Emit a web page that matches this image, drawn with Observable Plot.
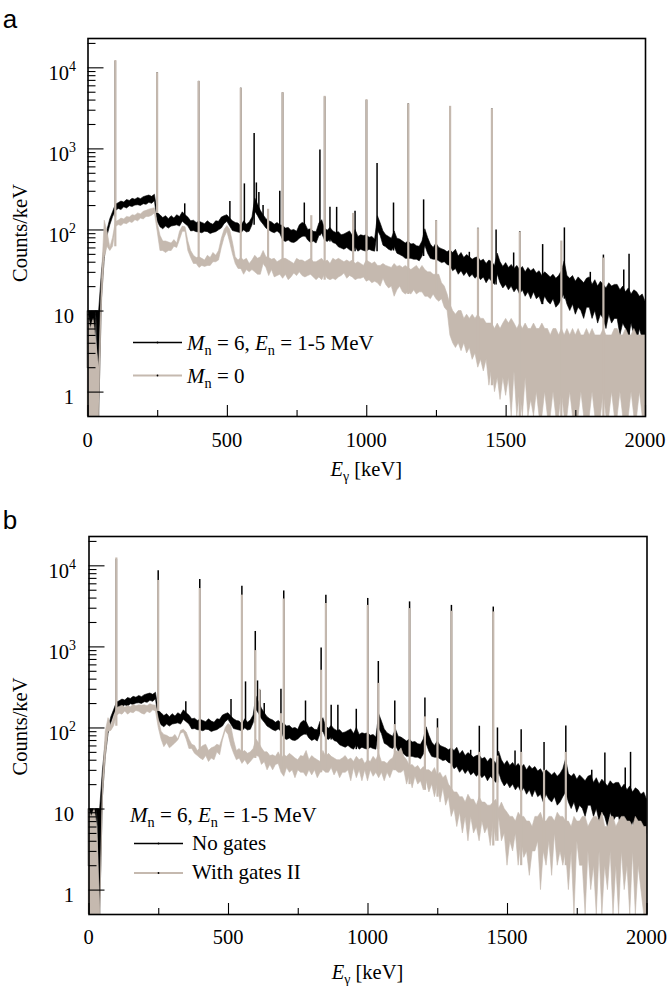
<!DOCTYPE html>
<html><head><meta charset="utf-8">
<script src="https://cdn.jsdelivr.net/npm/d3@7"></script>
<script src="https://cdn.jsdelivr.net/npm/@observablehq/plot@0.6"></script>
<style>
html,body{margin:0;padding:0;background:#fff;overflow:hidden;}
svg{display:block;}
</style></head><body>
<div id="chart"></div>
<script>
// ---- energy bins (keV), 10 keV wide ----
const energies = d3.range(0, 2001, 10);

// ---- noise band of each spectrum per bin: upper and lower edge (counts/keV) ----
// M_n = 6, E_n = 1-5 MeV, no gates (black, both panels)
const noGatesHi = [
/* 0 */    10, 10, 10, 10, 10, 30, 66, 100, 136, 166,
/* 100 */  205, 214, 224, 218, 234, 228, 242, 236, 248, 240,
/* 200 */  254, 260, 266, 256, 272, 162, 152, 140, 148, 136,
/* 300 */  148, 138, 152, 144, 165, 152, 142, 128, 130, 122,
/* 400 */  126, 122, 118, 128, 120, 116, 128, 126, 142, 148,
/* 500 */  152, 138, 128, 122, 120, 110, 128, 116, 124, 142,
/* 600 */  245, 205, 172, 152, 136, 128, 124, 116, 122, 114,
/* 700 */  112, 104, 106, 98, 100, 95, 114, 122, 118, 100,
/* 800 */  102, 95, 94, 120, 132, 104, 98, 106, 96, 92,
/* 900 */  94, 86, 88, 92, 96, 84, 100, 82, 86, 84,
/* 1000 */ 86, 80, 82, 76, 148, 120, 96, 86, 82, 78,
/* 1100 */ 96, 78, 76, 72, 68, 72, 66, 67, 63, 62,
/* 1200 */ 72, 102, 80, 66, 60, 68, 60, 58, 56, 53,
/* 1300 */ 56, 52, 57, 47, 52, 45, 49, 46, 43, 45,
/* 1400 */ 46, 41, 43, 38, 42, 40, 36, 51, 40, 35,
/* 1500 */ 39, 34, 37, 33, 36, 32, 35, 30, 34, 31,
/* 1600 */ 33, 29, 31, 27, 30, 28, 26, 28, 25, 27,
/* 1700 */ 31, 41, 27, 25, 27, 23, 26, 24, 22, 25,
/* 1800 */ 26, 21, 24, 20, 23, 21, 19, 22, 20, 21,
/* 1900 */ 21, 18, 20, 17, 19, 16, 18, 17, 15, 16,
/* 2000 */ 13
];
const noGatesLo = [
/* 0 */    2, 2.2, 0.3, 10, 0.3, 14, 44, 84, 114, 144,
/* 100 */  170, 182, 176, 190, 184, 196, 192, 200, 202, 198,
/* 200 */  208, 204, 216, 210, 226, 126, 108, 102, 110, 104,
/* 300 */  110, 112, 114, 110, 126, 118, 110, 96, 97, 94,
/* 400 */  93, 91, 95, 94, 89, 92, 94, 99, 104, 118,
/* 500 */  126, 110, 97, 95, 93, 91, 99, 93, 95, 114,
/* 600 */  168, 148, 128, 116, 104, 99, 94, 91, 96, 90,
/* 700 */  74, 71, 74, 70, 69, 72, 78, 82, 84, 74,
/* 800 */  69, 72, 68, 84, 90, 74, 71, 76, 69, 67,
/* 900 */  61, 59, 57, 60, 56, 54, 61, 54, 57, 55,
/* 1000 */ 54, 57, 55, 54, 98, 84, 64, 61, 57, 55,
/* 1100 */ 61, 51, 49, 47, 44, 44, 44, 43, 43, 41,
/* 1200 */ 47, 64, 51, 44, 43, 43, 41, 39, 40, 37,
/* 1300 */ 36, 31, 33, 28, 31, 27, 30, 26, 28, 25,
/* 1400 */ 27, 24, 26, 22, 25, 23, 21, 28, 22, 19,
/* 1500 */ 21, 18, 20, 17, 19, 16, 18, 15, 17, 14,
/* 1600 */ 17, 14, 15, 12, 15, 13, 12, 14, 11, 12,
/* 1700 */ 14, 16, 12, 10, 12, 9, 11, 10, 8, 11,
/* 1800 */ 11, 8, 10, 7, 9, 8, 6, 9, 7, 8,
/* 1900 */ 8, 5, 7, 6, 4.5, 7, 5, 4, 6, 4.5,
/* 2000 */ 5
];
// M_n = 0 (grey, panel a)
const mn0Hi = [
/* 0 */    10, 6, 8, 4, 2, 25, 130, 95, 60, 80,
/* 100 */  125, 130, 138, 135, 145, 142, 152, 150, 160, 155,
/* 200 */  168, 172, 178, 182, 185, 120, 85, 72, 72, 70,
/* 300 */  68, 75, 68, 95, 110, 108, 72, 55, 48, 45,
/* 400 */  46, 44, 42, 48, 45, 52, 48, 55, 78, 100,
/* 500 */  112, 100, 70, 46, 42, 45, 42, 44, 38, 42,
/* 600 */  48, 44, 46, 55, 46, 45, 43, 44, 40, 42,
/* 700 */  44, 44, 42, 40, 38, 44, 42, 42, 40, 42,
/* 800 */  44, 40, 40, 42, 44, 40, 42, 38, 44, 42,
/* 900 */  44, 42, 40, 42, 40, 42, 38, 40, 38, 36,
/* 1000 */ 42, 40, 38, 40, 36, 36, 38, 36, 35, 34,
/* 1100 */ 38, 35, 36, 34, 36, 34, 32, 34, 36, 32,
/* 1200 */ 36, 32, 30, 30, 28, 28, 28, 22, 20, 16,
/* 1300 */ 12, 10, 9, 10, 10, 8, 9, 8, 9, 8,
/* 1400 */ 9, 8, 8, 7, 7, 7, 6, 7, 6, 7,
/* 1500 */ 8, 7, 8, 7, 6, 7, 6, 7, 6, 6,
/* 1600 */ 7, 6, 6, 7, 6, 6, 5, 6, 6, 5,
/* 1700 */ 6, 5, 6, 5, 6, 5, 6, 5, 5, 6,
/* 1800 */ 5, 6, 5, 5, 5, 6, 5, 5, 5, 6,
/* 1900 */ 6, 5, 5, 6, 5, 5, 6, 5, 5, 5,
/* 2000 */ 5
];
const mn0Lo = [
/* 0 */    0.2, 0.2, 0.2, 0.2, 0.2, 12, 45, 62, 55, 62,
/* 100 */  108, 115, 112, 120, 118, 125, 122, 132, 128, 138,
/* 200 */  135, 145, 145, 150, 160, 95, 55, 55, 52, 55,
/* 300 */  55, 62, 60, 75, 95, 95, 55, 45, 38, 38,
/* 400 */  34, 36, 35, 36, 36, 40, 40, 42, 60, 80,
/* 500 */  95, 70, 50, 38, 33, 33, 28, 32, 30, 32,
/* 600 */  30, 28, 28, 38, 34, 27, 32, 26, 27, 28,
/* 700 */  25, 28, 24, 26, 29, 27, 30, 27, 26, 27,
/* 800 */  28, 26, 24, 26, 24, 28, 25, 24, 25, 24,
/* 900 */  26, 27, 29, 25, 27, 26, 24, 25, 25, 26,
/* 1000 */ 23, 24, 22, 23, 22, 20, 25, 21, 19, 20,
/* 1100 */ 15, 18, 20, 17, 16, 17, 16, 18, 16, 17,
/* 1200 */ 17, 15, 15, 14, 16, 14, 13, 14, 11, 10,
/* 1300 */ 5, 4, 3.5, 4, 3.2, 4, 3, 3.5, 2.5, 3,
/* 1400 */ 2, 2.5, 1.8, 2.5, 1.2, 2, 1, 1.5, 0.8, 1.5,
/* 1500 */ 0.9, 1.5, 0.2, 1.8, 0.2, 1, 0.2, 1.5, 0.2, 0.8,
/* 1600 */ 0.2, 1, 0.2, 0.2, 1, 0.2, 0.2, 1, 0.2, 0.2,
/* 1700 */ 1, 0.2, 0.2, 1, 0.2, 0.2, 0.2, 1, 0.2, 0.2,
/* 1800 */ 0.2, 1, 0.2, 0.2, 0.2, 1, 0.2, 0.2, 1, 0.2,
/* 1900 */ 0.2, 1, 0.2, 0.2, 0.2, 1, 0.2, 0.2, 1, 0.2,
/* 2000 */ 0.2
];
// With gates II (grey, panel b)
const gatesHi = [
/* 0 */    10, 8, 10, 6, 0.3, 22, 90, 132, 105, 135,
/* 100 */  175, 182, 188, 178, 186, 180, 192, 185, 190, 188,
/* 200 */  190, 185, 196, 190, 188, 130, 90, 82, 80, 76,
/* 300 */  76, 82, 72, 92, 95, 88, 72, 62, 60, 52,
/* 400 */  56, 60, 62, 52, 56, 58, 62, 60, 76, 100,
/* 500 */  112, 105, 70, 52, 55, 50, 52, 48, 50, 55,
/* 600 */  72, 65, 56, 50, 50, 45, 46, 44, 50, 42,
/* 700 */  46, 44, 48, 45, 42, 40, 45, 44, 52, 40,
/* 800 */  45, 42, 40, 38, 52, 44, 48, 44, 42, 40,
/* 900 */  40, 42, 45, 40, 42, 38, 44, 40, 42, 36,
/* 1000 */ 40, 38, 44, 40, 48, 38, 38, 36, 40, 42,
/* 1100 */ 52, 50, 56, 44, 40, 34, 35, 32, 34, 30,
/* 1200 */ 33, 30, 30, 28, 32, 26, 28, 24, 26, 20,
/* 1300 */ 18, 16, 16, 14, 14, 12, 15, 13, 13, 11,
/* 1400 */ 14, 12, 12, 11, 11, 12, 13, 10, 12, 10,
/* 1500 */ 9, 8, 8, 7, 9, 8, 8, 7, 7, 6,
/* 1600 */ 8, 8, 9, 7, 7, 8, 8, 7, 9, 8,
/* 1700 */ 8, 7, 7, 6, 8, 7, 7, 8, 8, 6,
/* 1800 */ 7, 8, 8, 7, 9, 6, 6, 8, 8, 6,
/* 1900 */ 7, 8, 8, 7, 7, 6, 8, 7, 7, 6,
/* 2000 */ 6
];
const gatesLo = [
/* 0 */    0.2, 0.2, 0.2, 0.2, 0.2, 14, 42, 90, 92, 105,
/* 100 */  140, 150, 146, 160, 146, 155, 152, 162, 158, 150,
/* 200 */  146, 158, 152, 165, 160, 100, 72, 58, 65, 56,
/* 300 */  60, 65, 70, 85, 88, 72, 55, 55, 48, 45,
/* 400 */  42, 40, 45, 38, 42, 40, 50, 46, 70, 92,
/* 500 */  82, 60, 48, 40, 42, 36, 40, 35, 38, 42,
/* 600 */  45, 44, 35, 38, 30, 35, 30, 35, 36, 28,
/* 700 */  25, 32, 28, 30, 24, 30, 28, 28, 25, 30,
/* 800 */  26, 30, 24, 28, 30, 28, 28, 32, 26, 30,
/* 900 */  24, 28, 28, 30, 22, 32, 24, 30, 22, 30,
/* 1000 */ 22, 30, 25, 28, 24, 28, 22, 28, 24, 30,
/* 1100 */ 30, 28, 28, 30, 20, 26, 18, 25, 20, 22,
/* 1200 */ 17, 22, 16, 20, 14, 20, 12, 18, 11, 14,
/* 1300 */ 8, 10, 6, 9, 5, 8, 4, 8, 5, 6,
/* 1400 */ 4, 7, 5, 6, 3.5, 7, 4, 8, 4, 5,
/* 1500 */ 2, 4, 3, 5, 2, 4, 2.5, 3, 1.5, 3,
/* 1600 */ 3, 4, 1, 3, 2, 4, 1.5, 5, 2, 3,
/* 1700 */ 2, 3, 1, 3, 0.2, 4, 2, 2, 0.2, 3,
/* 1800 */ 1, 2, 0.2, 3, 0.2, 2, 1, 3, 0.2, 2,
/* 1900 */ 0.2, 3, 1, 2, 0.2, 3, 0.2, 2, 1, 0.2,
/* 2000 */ 0.2
];

// ---- gamma lines (peak energy keV, peak height counts/keV) ----
const peakE_NoGates = [98, 248, 347, 397, 509, 548, 561, 596, 604, 613, 628, 688, 698, 776, 832, 849, 868, 892, 958, 999, 1037, 1096, 1149, 1204, 1249, 1299, 1368, 1399, 1449, 1464, 1527, 1549, 1631, 1709, 1802, 1849, 1922, 1941];
const peakH_NoGates = [12000, 8700, 210, 6800, 225, 5600, 370, 1550, 380, 290, 200, 300, 4900, 215, 970, 4350, 190, 190, 170, 3960, 660, 215, 3590, 235, 130, 3250, 53, 105, 3100, 100, 52, 95, 66, 106, 30, 49, 32, 50];
const peakE_Mn0 = [98, 248, 397, 548, 646, 698, 801, 849, 951, 999, 1149, 1249, 1299, 1399, 1449, 1549, 1698, 1849];
const peakH_Mn0 = [12300, 8700, 6800, 5600, 180, 4950, 150, 4450, 160, 4050, 3600, 130, 3350, 104, 3100, 94, 73, 45];
const peakE_Gates = [98, 248, 397, 548, 596, 611, 688, 698, 832, 849, 999, 1037, 1096, 1149, 1204, 1249, 1299, 1399, 1449, 1464, 1549, 1631, 1709];
const peakH_Gates = [12500, 6600, 5250, 4350, 900, 300, 150, 3900, 515, 3430, 3250, 355, 110, 2970, 137, 100, 2750, 50, 2700, 45, 50, 30, 50];

// ---- axes ----
const xTickMajor = [0, 500, 1000, 1500, 2000];
const xTickLabels = ["0", "500", "1000", "1500", "2000"];
const xTickMinor = [250, 750, 1250, 1750];
const yTickMajor = [1, 10, 100, 1000, 10000];
const yTickBase = ["1", "10", "10", "10", "10"];
const yTickExp = ["", "", "2", "3", "4"];
const yTickMinor = [1, 10, 100, 1000].flatMap(d => [2, 3, 4, 5, 6, 7, 8, 9].map(k => k * d)).concat([20000]);

const GREY = "#c5b9af";
const SERIF = "Liberation Serif";
const SANS = "Liberation Sans";

const band = (lo, hi) => energies.map((e, i) => ({e, lo: lo[i], hi: hi[i]}));
const peaks = (pe, ph, lo) => pe.map((e, i) => ({e, top: ph[i], base: lo[Math.floor(e / 10)]}));

const bandNoGates = band(noGatesLo, noGatesHi);
const bandMn0 = band(mn0Lo, mn0Hi);
const bandGates = band(gatesLo, gatesHi);
const peaksNoGates = peaks(peakE_NoGates, peakH_NoGates, noGatesLo);
const peaksMn0 = peaks(peakE_Mn0, peakH_Mn0, mn0Lo);
const peaksGates = peaks(peakE_Gates, peakH_Gates, gatesLo);

// rich text, laid out with text-anchor start; alignment done by measuring
function rich(g, x, y, parts, size, anchor = "start", rotate = false) {
  const t = g.append("text").attr("x", 0).attr("y", 0)
    .attr("text-anchor", "start")
    .attr("style", `font-family: "${SERIF}"; font-size: ${size}px; font-weight: normal`)
    .attr("fill", "#000");
  let cur = 0;
  parts.forEach(p => {
    const want = p.sub ? size * 0.26 : p.sup ? -size * 0.42 : 0;
    const s = t.append("tspan").text(p.t);
    if (want !== cur) s.attr("dy", want - cur);
    cur = want;
    if (p.i) s.attr("font-style", "italic");
    if (p.sub || p.sup) s.style("font-size", (size * 0.68) + "px");
  });
  const w = t.node().getComputedTextLength();
  const shift = anchor === "middle" ? -w / 2 : anchor === "end" ? -w : 0;
  if (rotate) {
    t.attr("x", shift).attr("transform", `translate(${x},${y}) rotate(-90)`);
  } else {
    t.attr("x", x + shift).attr("y", y);
  }
  return t;
}

function panel(cfg) {
  const W = 670, H = 493;
  const fw = W - cfg.ml - cfg.mr, fh = H - cfg.mt - cfg.mb;
  const svg = Plot.plot({
    width: W, height: H,
    marginTop: cfg.mt, marginBottom: cfg.mb, marginLeft: cfg.ml, marginRight: cfg.mr,
    style: {fontFamily: SERIF, background: "#fff", overflow: "visible"},
    x: {domain: [0, 2000], axis: null},
    y: {type: "log", domain: [0.5, 23000], clamp: true, axis: null},
    marks: [
      Plot.areaY(bandNoGates, {x: "e", y1: "lo", y2: "hi", fill: "#000", stroke: "#000", strokeWidth: 0.6}),
      Plot.ruleX(peaksNoGates, {x: "e", y1: "base", y2: "top", stroke: "#000", strokeWidth: 1.5}),
      Plot.areaY(cfg.band, {x: "e", y1: "lo", y2: "hi", fill: GREY, stroke: GREY, strokeWidth: 0.6}),
      Plot.ruleX(cfg.peaks, {x: "e", y1: "base", y2: "top", stroke: GREY, strokeWidth: 2.2}),
      Plot.tickY(yTickMajor, {y: d => d, stroke: "#000", strokeWidth: 1.1, insetRight: fw - 16}),
      Plot.tickY(yTickMinor, {y: d => d, stroke: "#000", strokeWidth: 1.1, insetRight: fw - 8}),
      Plot.tickX(xTickMajor, {x: d => d, stroke: "#000", strokeWidth: 1.1, insetTop: fh - 11}),
      Plot.tickX(xTickMinor, {x: d => d, stroke: "#000", strokeWidth: 1.1, insetTop: fh - 6}),
      Plot.frame({stroke: "#000", strokeWidth: 1.6})
    ]
  });
  document.getElementById("chart").appendChild(svg);
  const sx = svg.scale("x"), sy = svg.scale("y");
  const g = d3.select(svg).append("g");
  xTickMajor.forEach((v, i) => {
    rich(g, sx.apply(v), cfg.xLab, [{t: xTickLabels[i]}], 20.5, "middle");
  });
  yTickMajor.forEach((v, i) => {
    const parts = [{t: yTickBase[i]}];
    if (yTickExp[i]) parts.push({t: yTickExp[i], sup: 1});
    rich(g, yTickExp[i] ? 76 : 74, sy.apply(v) + 12.5, parts, 20.5, "end");
  });
  const x0 = sx.apply(0), x1 = sx.apply(2000);
  rich(g, (x0 + x1) / 2, cfg.xTitle, [{t: "E", i: 1}, {t: "γ", sub: 1}, {t: " [keV]"}], 20.5, "middle");
  rich(g, 27, cfg.yTitle, [{t: "Counts/keV"}], 20.5, "middle", true);
  g.append("text").attr("x", 10).attr("y", cfg.letterY)
    .attr("style", `font-family: "${SANS}"; font-size: 26px`).text(cfg.letter);
  cfg.legend(g);
  return svg;
}

const lgM6 = [{t: "M", i: 1}, {t: "n", sub: 1}, {t: " = 6, "}, {t: "E", i: 1}, {t: "n", sub: 1}, {t: " = 1-5 MeV"}];

function legendLine(g, x1, x2, y, color, w) {
  g.append("line").attr("x1", x1).attr("x2", x2).attr("y1", y).attr("y2", y).attr("stroke", color).attr("stroke-width", w);
  g.append("circle").attr("cx", (x1 + x2) / 2).attr("cy", y).attr("r", 0.9).attr("fill", "#000");
}

panel({
  letter: "a", letterY: 28, mt: 38, mb: 77, ml: 87.5, mr: 25,
  xLab: 447, xTitle: 476, yTitle: 233, band: bandMn0, peaks: peaksMn0,
  legend: g => {
    legendLine(g, 133, 182, 342.5, "#000", 1.6);
    rich(g, 187, 350, lgM6, 21);
    legendLine(g, 133, 182, 375.5, GREY, 2.2);
    rich(g, 187, 382.5, [{t: "M", i: 1}, {t: "n", sub: 1}, {t: " = 0"}], 21);
  }
});
panel({
  letter: "b", letterY: 36, mt: 43, mb: 72, ml: 88.5, mr: 23.5,
  xLab: 451, xTitle: 486, yTitle: 233.5, band: bandGates, peaks: peaksGates,
  legend: g => {
    rich(g, 130, 329, lgM6, 21);
    legendLine(g, 134, 183, 350.5, "#000", 1.6);
    rich(g, 192, 357, [{t: "No gates"}], 21);
    legendLine(g, 134, 183, 380, GREY, 2.2);
    rich(g, 192, 386, [{t: "With gates II"}], 21);
  }
});
</script>
</body></html>
